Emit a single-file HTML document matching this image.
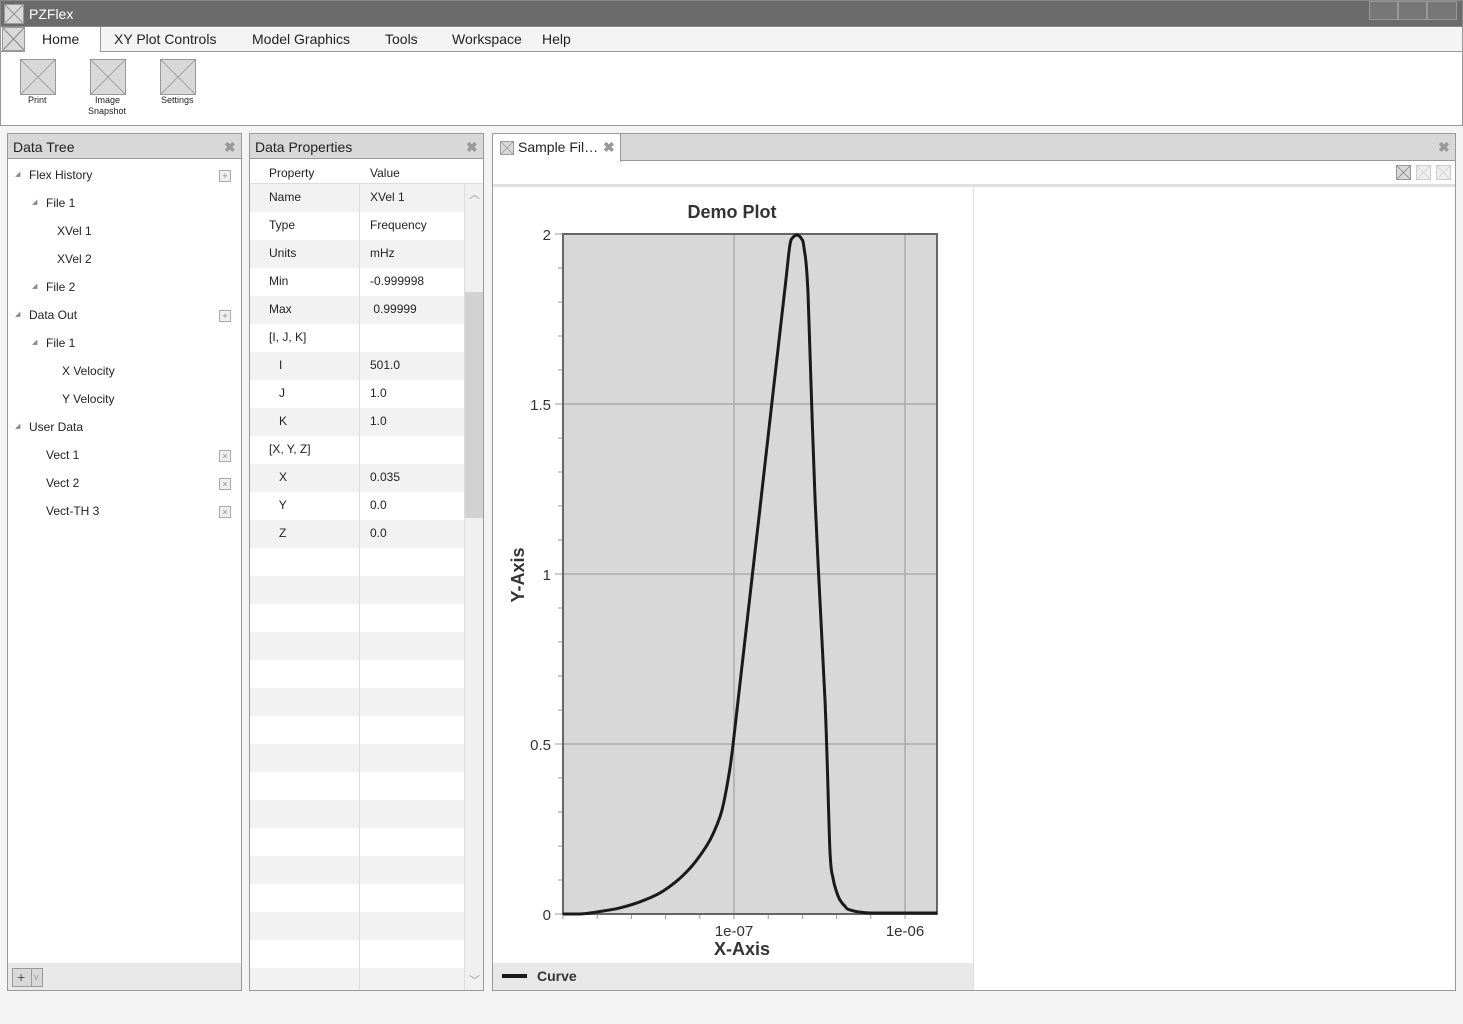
<!DOCTYPE html>
<html><head><meta charset="utf-8"><style>
*{box-sizing:border-box;margin:0;padding:0}
body{width:1463px;height:1024px;position:relative;background:#f4f4f4;font-family:"Liberation Sans",sans-serif;color:#222;overflow:hidden}
.a{position:absolute}
.xb{position:absolute;background:#d9d9d9;border:1px solid #999}
.xb svg{width:100%;height:100%;display:block}
.t{position:absolute;font-size:12px;white-space:nowrap}
.close{position:absolute;font-size:14px;color:#999;font-weight:bold}
</style></head><body>
<div class="a" style="left:0;top:0;width:1463px;height:27px;background:#6b6b6b;border:1px solid #888">
 <div class="xb" style="left:3px;top:3px;width:20px;height:20px"><svg viewBox="0 0 20 20"><path d="M0 0L20 20M20 0L0 20" stroke="#888"/></svg></div>
 <div class="t" style="left:28px;top:5px;font-size:14px;color:#fff">PZFlex</div>
 <div class="a" style="left:1368px;top:0;width:29px;height:19px;background:#777;border:1px solid #999"></div>
 <div class="a" style="left:1397px;top:0;width:29px;height:19px;background:#777;border:1px solid #999"></div>
 <div class="a" style="left:1426px;top:0;width:30px;height:19px;background:#777;border:1px solid #999"></div>
</div>
<div class="a" style="left:0;top:27px;width:1463px;height:25px;background:#f4f4f4;border-bottom:1px solid #999;border-left:1px solid #999;border-right:1px solid #999">
 <div class="xb" style="left:1px;top:0;width:23px;height:24px"><svg viewBox="0 0 20 20" preserveAspectRatio="none"><path d="M0 0L20 20M20 0L0 20" stroke="#888"/></svg></div>
 <div class="a" style="left:24px;top:0;width:76px;height:25px;background:#fff;border-right:1px solid #999"></div>
 <div class="t" style="left:41px;top:4px;font-size:14px">Home</div>
 <div class="t" style="left:113px;top:4px;font-size:14px">XY Plot Controls</div>
 <div class="t" style="left:251px;top:4px;font-size:14px">Model Graphics</div>
 <div class="t" style="left:384px;top:4px;font-size:14px">Tools</div>
 <div class="t" style="left:451px;top:4px;font-size:14px">Workspace</div>
 <div class="t" style="left:541px;top:4px;font-size:14px">Help</div>
</div>
<div class="a" style="left:0;top:52px;width:1463px;height:74px;background:#fff;border-left:1px solid #999;border-right:1px solid #999;border-bottom:1px solid #999">
 <div class="xb" style="left:19px;top:7px;width:36px;height:36px"><svg viewBox="0 0 20 20" preserveAspectRatio="none"><path d="M0 0L20 20M20 0L0 20" stroke="#999" stroke-width=".5"/></svg></div>
 <div class="t" style="left:27px;top:43px;font-size:9px">Print</div>
 <div class="xb" style="left:89px;top:7px;width:36px;height:36px"><svg viewBox="0 0 20 20" preserveAspectRatio="none"><path d="M0 0L20 20M20 0L0 20" stroke="#999" stroke-width=".5"/></svg></div>
 <div class="t" style="left:94px;top:43px;font-size:9px">Image</div>
 <div class="t" style="left:87px;top:54px;font-size:9px">Snapshot</div>
 <div class="xb" style="left:159px;top:7px;width:36px;height:36px"><svg viewBox="0 0 20 20" preserveAspectRatio="none"><path d="M0 0L20 20M20 0L0 20" stroke="#999" stroke-width=".5"/></svg></div>
 <div class="t" style="left:160px;top:43px;font-size:9px">Settings</div>
</div>

<div class="a" style="left:7px;top:133px;width:235px;height:858px;background:#fff;border:1px solid #999">
 <div class="a" style="left:0;top:0;width:233px;height:25px;background:#d8d8d8;border-bottom:1px solid #999"></div>
 <div class="t" style="left:5px;top:5px;font-size:14px">Data Tree</div>
 <div class="close" style="left:216px;top:5px">✖</div>
 <div class="a" style="left:0;top:829px;width:233px;height:27px;background:#e8e8e8"></div>
 <div class="a" style="left:4px;top:834px;width:31px;height:19px;background:#d8d8d8;border:1px solid #999;font-size:14px;line-height:16px;padding-left:4px;color:#555">+<span style="position:absolute;left:18px;top:0;height:17px;border-left:1px solid #999;padding-left:2px;font-size:9px;color:#999">v</span></div>
</div>
<div id="tree"></div>

<div class="a" style="left:249px;top:133px;width:235px;height:858px;background:#fff;border:1px solid #999;overflow:hidden">
 <div class="a" style="left:0;top:0;width:233px;height:25px;background:#d8d8d8;border-bottom:1px solid #999"></div>
 <div class="t" style="left:5px;top:5px;font-size:14px">Data Properties</div>
 <div class="close" style="left:216px;top:5px">✖</div>
 <div class="t" style="left:19px;top:32px">Property</div>
 <div class="t" style="left:120px;top:32px">Value</div>
 <div class="a" style="left:0;top:49px;width:233px;border-top:1px solid #ddd"></div>
 <div id="rows"></div>
 <div class="a" style="left:214px;top:50px;width:19px;height:806px;background:#f0f0f0;border-left:1px solid #ddd">
  <div class="a" style="left:0;top:108px;width:18px;height:226px;background:#d2d2d2"></div>
  <div class="t" style="left:4px;top:2px;color:#999;font-size:11px">︿</div>
  <div class="t" style="left:4px;top:788px;color:#999;font-size:11px">﹀</div>
 </div>
</div>

<div class="a" style="left:492px;top:133px;width:964px;height:858px;background:#fff;border:1px solid #999">
 <div class="a" style="left:0;top:0;width:962px;height:27px;background:#d8d8d8;border-bottom:1px solid #999"></div>
 <div class="a" style="left:0;top:0;width:128px;height:28px;background:#fff;border-right:1px solid #999"></div>
 <div class="xb" style="left:7px;top:7px;width:14px;height:14px"><svg viewBox="0 0 20 20"><path d="M0 0L20 20M20 0L0 20" stroke="#888"/></svg></div>
 <div class="t" style="left:25px;top:5px;font-size:14px">Sample Fil…</div>
 <div class="close" style="left:110px;top:5px">✖</div>
 <div class="close" style="left:945px;top:5px">✖</div>
 <div class="xb" style="left:903px;top:31px;width:15px;height:15px"><svg viewBox="0 0 20 20"><path d="M0 0L20 20M20 0L0 20" stroke="#777"/></svg></div>
 <div class="xb" style="left:923px;top:31px;width:15px;height:15px;background:#eee;border-color:#ccc"><svg viewBox="0 0 20 20"><path d="M0 0L20 20M20 0L0 20" stroke="#ccc"/></svg></div>
 <div class="xb" style="left:943px;top:31px;width:15px;height:15px;background:#eee;border-color:#ccc"><svg viewBox="0 0 20 20"><path d="M0 0L20 20M20 0L0 20" stroke="#ccc"/></svg></div>
 <div class="a" style="left:0;top:50px;width:962px;height:3px;background:#e0e0e0"></div>
 <div class="a" style="left:480px;top:53px;height:803px;border-left:1px solid #ddd"></div>
 <div class="a" style="left:0;top:829px;width:480px;height:27px;background:#e8e8e8"></div>
</div>

<svg class="a" style="left:0;top:0" width="1463" height="1024">
 <g id="chart"></g>
</svg>

<script>
const logX=[-8.0,-7.90,-7.80,-7.667,-7.55,-7.433,-7.34,-7.257,-7.19,-7.140,-7.10,-7.070,-7.035,-7.006,-6.93,-6.85,-6.77,-6.70,-6.673,-6.655,-6.632,-6.608,-6.591,-6.567,-6.526,-6.468,-6.439,-6.421,-6.400,-6.380,-6.350,-6.322,-6.205,-5.813];
const yVals=[0,0,0.006,0.018,0.036,0.062,0.095,0.135,0.178,0.218,0.262,0.306,0.394,0.497,0.833,1.186,1.54,1.849,1.968,1.99,1.997,1.988,1.96,1.82,1.218,0.629,0.188,0.106,0.065,0.041,0.022,0.012,0.003,0.003];
const yTicks=[0,0.5,1,1.5,2];
const yTickLabels=["0","0.5","1","1.5","2"];
const xMajor=[-7,-6];
const xMajorLabels=["1e-07","1e-06"];
const treeItems=[["Flex History",29,1,1],["File 1",46,1,0],["XVel 1",57,0,0],["XVel 2",57,0,0],["File 2",46,1,0],["Data Out",29,1,1],["File 1",46,1,0],["X Velocity",62,0,0],["Y Velocity",62,0,0],["User Data",29,1,0],["Vect 1",46,0,2],["Vect 2",46,0,2],["Vect-TH 3",46,0,2]];
const propRows=[["Name","XVel 1"],["Type","Frequency"],["Units","mHz"],["Min","-0.999998"],["Max"," 0.99999"],["[I, J, K]",""],["   I","501.0"],["   J","1.0"],["   K","1.0"],["[X, Y, Z]",""],["   X","0.035"],["   Y","0.0"],["   Z","0.0"]];

const NS="http://www.w3.org/2000/svg";
const X0=563,X1=937,Y0=914,Y1=234,LMIN=-8,LMAX=-5.813;
const sx=l=>X0+(l-LMIN)/(LMAX-LMIN)*(X1-X0);
const sy=v=>Y0-(v/2)*(Y0-Y1);
const g=document.getElementById('chart');
function mk(tag,at,txt){const e=document.createElementNS(NS,tag);for(const k in at)e.setAttribute(k,at[k]);if(txt!==undefined)e.textContent=txt;g.appendChild(e);return e;}
let e=mk('rect',{x:X0,y:Y1,width:X1-X0,height:Y0-Y1,fill:'#d8d8d8'});


yTicks.forEach((v,i)=>{
 if(v>0&&v<2){let l=mk('line',{x1:X0,x2:X1,y1:sy(v),y2:sy(v),stroke:'#aaa','stroke-width':1.5});
 
 }
 let t=mk('text',{x:551,y:sy(v)+6,'text-anchor':'end','font-size':15,fill:'#333','font-family':'Liberation Sans'},yTickLabels[i]);
 
 
 mk('line',{x1:555,x2:X0,y1:sy(v),y2:sy(v),stroke:'#999'});
});
for(let k=0;k<=20;k++){const v=k*0.1;mk('line',{x1:X0-5,x2:X0,y1:sy(v),y2:sy(v),stroke:'#999'});}
xMajor.forEach((l,i)=>{
 let gl=mk('line',{x1:sx(l),x2:sx(l),y1:Y1,y2:Y0,stroke:'#aaa','stroke-width':1.5});
 
 
 let t=mk('text',{x:sx(l),y:936,'text-anchor':'middle','font-size':15,fill:'#333','font-family':'Liberation Sans'},xMajorLabels[i]);
 
 
});
for(let l=LMIN;l<=LMAX+0.01;l+=0.2){mk('line',{x1:sx(l),x2:sx(l),y1:Y0,y2:Y0+5,stroke:'#999'});}
e=mk('rect',{x:X0,y:Y1,width:X1-X0,height:Y0-Y1,fill:'none',stroke:'#666','stroke-width':2});


const P=logX.map((l,i)=>[sx(l),sy(yVals[i])]);
const cl=(v,a,b)=>Math.max(Math.min(a,b),Math.min(Math.max(a,b),v));
let d='M'+P[0][0].toFixed(1)+' '+P[0][1].toFixed(1);
for(let i=0;i<P.length-1;i++){
 const p0=P[Math.max(0,i-1)],p1=P[i],p2=P[i+1],p3=P[Math.min(P.length-1,i+2)];
 const c1=[p1[0]+(p2[0]-p0[0])/6,cl(p1[1]+(p2[1]-p0[1])/6,p1[1],p2[1])];
 const c2=[p2[0]-(p3[0]-p1[0])/6,cl(p2[1]-(p3[1]-p1[1])/6,p1[1],p2[1])];
 d+=` C${c1[0].toFixed(1)} ${c1[1].toFixed(1)} ${c2[0].toFixed(1)} ${c2[1].toFixed(1)} ${p2[0].toFixed(1)} ${p2[1].toFixed(1)}`;
}
e=mk('path',{d:d,fill:'none',stroke:'#1a1a1a','stroke-width':3,'stroke-linejoin':'round'});


e=mk('text',{x:732,y:218,'text-anchor':'middle','font-size':18,'font-weight':'bold',fill:'#333','font-family':'Liberation Sans'},'Demo Plot');


e=mk('text',{x:742,y:955,'text-anchor':'middle','font-size':18,'font-weight':'bold',fill:'#333','font-family':'Liberation Sans'},'X-Axis');


e=mk('text',{x:0,y:0,transform:'translate(524,575) rotate(-90)','text-anchor':'middle','font-size':18,'font-weight':'bold',fill:'#333','font-family':'Liberation Sans'},'Y-Axis');


e=mk('line',{x1:502,x2:527,y1:976,y2:976,stroke:'#1a1a1a','stroke-width':4});


e=mk('text',{x:537,y:981,'font-size':14,'font-weight':'bold',fill:'#333','font-family':'Liberation Sans'},'Curve');



const tree=document.getElementById('tree');
treeItems.forEach((it,i)=>{
 const y=175+i*28;
 const t=document.createElement('div');t.className='t';t.style.left=it[1]+'px';t.style.top=(y-7)+'px';t.textContent=it[0];
 
 
 tree.appendChild(t);
 if(it[2]){const a=document.createElement('div');a.className='t';a.style.left=(it[1]-14)+'px';a.style.top=(y-5)+'px';a.style.fontSize='7px';a.style.color='#888';a.textContent='◢';tree.appendChild(a);}
 if(it[3]){const b=document.createElement('div');b.className='a';b.style.cssText=`left:219px;top:${y-5}px;width:12px;height:12px;border:1px solid #aaa;background:#eee;font-size:9px;line-height:10px;text-align:center;color:#888`;b.textContent=it[3]==1?'+':'×';
 
 
 tree.appendChild(b);}
});
const rows=document.getElementById('rows');
for(let i=0;i<29;i++){
 const r=document.createElement('div');r.className='a';
 r.style.cssText=`left:0;top:${50+i*28}px;width:214px;height:28px;background:${i%2==0?'#f2f2f2':'#fff'}`;
 
 
 rows.appendChild(r);
 if(propRows[i]){
  const a=document.createElement('div');a.className='t';a.style.cssText='left:19px;top:6px;white-space:pre';a.textContent=propRows[i][0];r.appendChild(a);
  const b=document.createElement('div');b.className='t';b.style.cssText='left:120px;top:6px;white-space:pre';b.textContent=propRows[i][1];r.appendChild(b);
 }
}
const div=document.createElement('div');div.className='a';div.style.cssText='left:109px;top:50px;height:806px;border-left:1px solid #ddd';rows.appendChild(div);
</script>
</body></html>
